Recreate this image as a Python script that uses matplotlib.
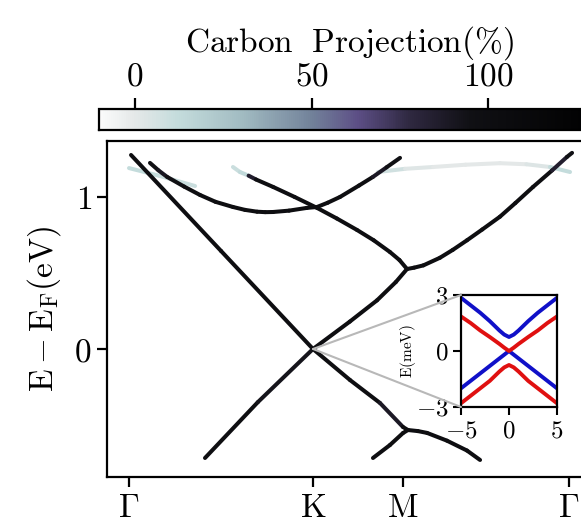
import numpy as np
import matplotlib
matplotlib.use('Agg')
import matplotlib.pyplot as plt
from matplotlib.collections import LineCollection
from matplotlib.colors import LinearSegmentedColormap, Normalize
from matplotlib.cm import ScalarMappable
from matplotlib.patches import ConnectionPatch

plt.rcParams['mathtext.fontset'] = 'cm'
plt.rcParams['font.family'] = 'DejaVu Serif'

# k-path (Gamma - K - M - Gamma)
kpath_ticks = [0.0, 1.0, 1.49, 2.39]
kpath_labels = [r'$\Gamma$', r'$\mathrm{K}$', r'$\mathrm{M}$', r'$\Gamma$']

# bands: k position, E - E_F (eV), carbon projection (%) at each point
band_a_k = [0.011, 0.5, 1.0, 1.201, 1.364, 1.489, 1.516, 1.570, 1.620, 1.728, 1.837, 1.908]
band_a_e = [1.276, 0.645, 0.0, -0.204, -0.355, -0.513, -0.533, -0.540, -0.552, -0.603, -0.668, -0.730]
band_a_c = [100, 100, 100, 100, 88, 100, 100, 100, 100, 100, 100, 100]

band_b_k = [0.413, 0.70, 1.0, 1.20, 1.348, 1.45, 1.511, 1.550, 1.600, 1.690, 1.760, 1.837,
            1.920, 2.016, 2.100, 2.196, 2.300, 2.380, 2.408]
band_b_e = [-0.717, -0.35, 0.0, 0.18, 0.32, 0.44, 0.526, 0.535, 0.550, 0.600, 0.652, 0.715,
            0.786, 0.870, 0.960, 1.066, 1.175, 1.263, 1.29]
band_b_c = [100, 92, 100, 100, 100, 100, 100, 100, 100, 100, 100, 100,
            100, 100, 100, 100, 85, 95, 100]

band_c_k = [0.114, 0.160, 0.207, 0.300, 0.386, 0.470, 0.565, 0.630, 0.696, 0.740, 0.783, 0.870,
            0.967, 1.022, 1.080, 1.147, 1.250, 1.326, 1.400, 1.473]
band_c_e = [1.224, 1.175, 1.132, 1.068, 1.013, 0.968, 0.934, 0.915, 0.903, 0.900, 0.901, 0.910,
            0.928, 0.934, 0.962, 1.000, 1.075, 1.132, 1.195, 1.257]
band_c_c = [95, 90, 95, 100, 100, 100, 100, 100, 100, 100, 100, 100,
            100, 100, 100, 100, 100, 88, 95, 100]

band_d_k = [0.565, 0.603, 0.650, 0.690, 0.783, 0.900, 1.022, 1.130, 1.239, 1.330, 1.418, 1.470, 1.511]
band_d_e = [1.197, 1.164, 1.140, 1.115, 1.066, 1.000, 0.928, 0.858, 0.783, 0.715, 0.638, 0.585, 0.526]
band_d_c = [10, 14, 85, 100, 100, 100, 100, 100, 100, 100, 100, 100, 100]

band_g_k = [1.326, 1.418, 1.489, 1.516]
band_g_e = [-0.717, -0.632, -0.553, -0.533]
band_g_c = [100, 100, 100, 100]

band_e_k = [0.0, 0.168, 0.359]
band_e_e = [1.19, 1.138, 1.072]
band_e_c = [12, 10, 2]

band_f_k = [1.353, 1.500, 1.652, 1.830, 2.016, 2.160, 2.288, 2.397]
band_f_e = [1.164, 1.185, 1.197, 1.212, 1.222, 1.215, 1.197, 1.164]
band_f_c = [8, 2, 0, 0, 0, 3, 12, 14]

# inset: k (arb.), E (meV)
inset_k = [-5, -4, -3, -2, -1, -0.5, 0, 0.5, 1, 2, 3, 4, 5]
blue_up = [2.85, 2.45, 2.05, 1.6, 1.1, 0.88, 0.75, 0.88, 1.1, 1.6, 2.05, 2.45, 2.85]
blue_dn = [-2.0, -1.6, -1.2, -0.8, -0.4, -0.2, 0.0, -0.2, -0.4, -0.8, -1.2, -1.6, -2.0]
red_up = [1.85, 1.5, 1.1, 0.75, 0.38, 0.18, 0.0, 0.18, 0.38, 0.75, 1.1, 1.5, 1.85]
red_dn = [-2.8, -2.4, -2.0, -1.6, -1.1, -0.88, -0.75, -0.88, -1.1, -1.6, -2.0, -2.4, -2.8]

# colour map of carbon projection
cb_min, cb_max = -10.2, 131.7
cmap_stops = [(-10.2, '#fbfbfb'), (0, '#e4e8e8'), (12, '#c4dcdc'), (30, '#a2bcc2'),
              (50, '#72829a'), (63, '#5d4f86'), (78, '#2e2840'), (95, '#101014'), (131.7, '#000000')]
cmap = LinearSegmentedColormap.from_list(
    'carbon', [((v - cb_min) / (cb_max - cb_min), c) for v, c in cmap_stops])
norm = Normalize(cb_min, cb_max)

W, H = 581, 525
fig = plt.figure(figsize=(W / 100, H / 100), dpi=100)

ax = fig.add_axes([107 / W, 48 / H, 484 / W, 336 / H])
ax.set_xlim(-0.1196, 2.511)
ax.set_ylim(-0.842, 1.368)

bands = [(band_f_k, band_f_e, band_f_c), (band_e_k, band_e_e, band_e_c),
         (band_c_k, band_c_e, band_c_c), (band_d_k, band_d_e, band_d_c),
         (band_a_k, band_a_e, band_a_c), (band_b_k, band_b_e, band_b_c),
         (band_g_k, band_g_e, band_g_c)]
for k, e, c in bands:
    pts = np.column_stack([k, e])
    segs = np.stack([pts[:-1], pts[1:]], axis=1)
    lc = LineCollection(segs, cmap=cmap, norm=norm, linewidths=2.9, capstyle='round', joinstyle='round')
    lc.set_array(np.array(c[:-1], dtype=float))
    ax.add_collection(lc)

ax.set_xticks(kpath_ticks, labels=kpath_labels)
ax.set_yticks([0, 1], labels=[r'$0$', r'$1$'])
ax.tick_params(direction='out', length=7, width=1.6, labelsize=24, pad=4)
ax.set_ylabel(r'$\mathrm{E-E_F(eV)}$', fontsize=24, labelpad=8)
for s in ax.spines.values():
    s.set_linewidth(1.6)

# colourbar on top
cax = fig.add_axes([99 / W, 1 - 130 / H, 501 / W, 21 / H])
cb = fig.colorbar(ScalarMappable(norm=norm, cmap=cmap), cax=cax, orientation='horizontal')
cb.outline.set_linewidth(1.6)
cax.xaxis.set_ticks_position('top')
cax.xaxis.set_label_position('top')
cax.set_xticks([0, 50, 100], labels=[r'$0$', r'$50$', r'$100$'])
cax.tick_params(direction='out', length=8, width=1.6, labelsize=24, pad=4)
cb.set_label(r'$\mathrm{Carbon\ \ Projection(\%)}$', fontsize=24, labelpad=6)

# inset
iax = fig.add_axes([461 / W, 1 - 407 / H, 96 / W, 112 / H])
iax.plot(inset_k, blue_up, color='#1010c8', lw=2.8)
iax.plot(inset_k, blue_dn, color='#1010c8', lw=2.8)
iax.plot(inset_k, red_up, color='#e01010', lw=2.8)
iax.plot(inset_k, red_dn, color='#e01010', lw=2.8)
iax.set_xlim(-5, 5)
iax.set_ylim(-3, 3)
iax.set_xticks([-5, 0, 5], labels=[r'$-5$', r'$0$', r'$5$'])
iax.set_yticks([-3, 0, 3], labels=[r'$-3$', r'$0$', r'$3$'])
iax.tick_params(direction='out', length=6, width=1.5, labelsize=18, pad=3)
iax.set_ylabel(r'$\mathrm{E(meV)}$', fontsize=11, labelpad=-2)
for s in iax.spines.values():
    s.set_linewidth(1.6)

for yc in (3, -3):
    con = ConnectionPatch(xyA=(1.0, 0.0), coordsA=ax.transData, xyB=(-5, yc), coordsB=iax.transData,
                          color='#b8b8b8', lw=1.5, zorder=1)
    fig.add_artist(con)

fig.savefig('out.png', dpi=100)
